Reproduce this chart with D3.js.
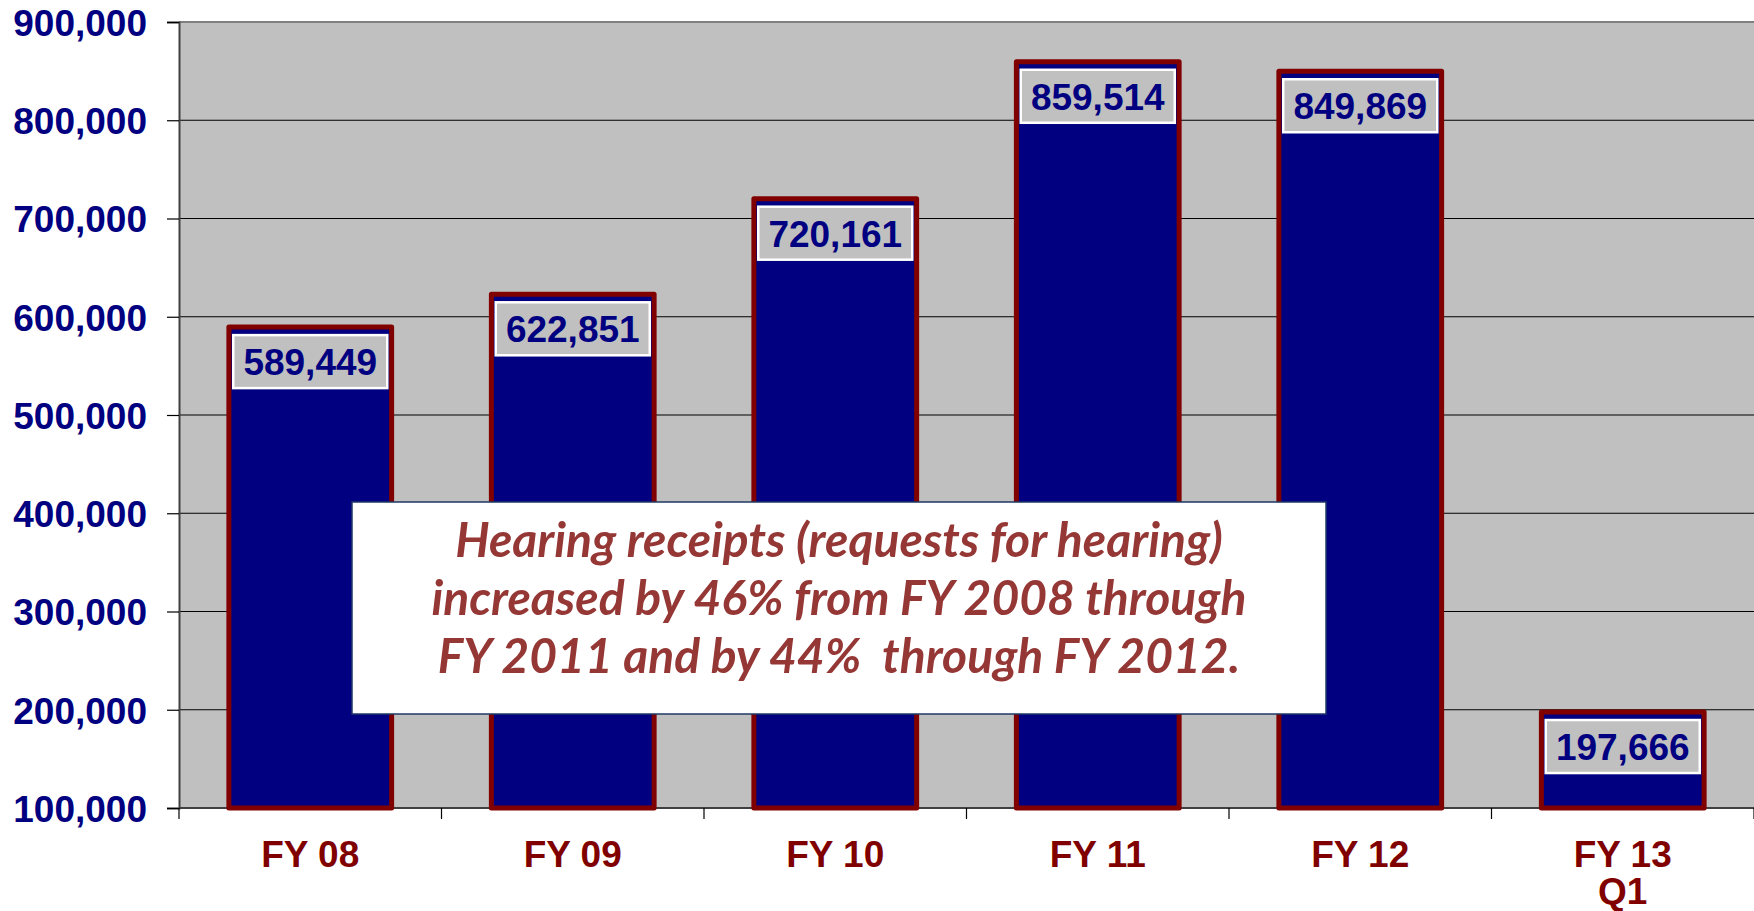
<!DOCTYPE html>
<html lang="en">
<head>
<meta charset="utf-8">
<title>Hearing receipts</title>
<script src="https://cdn.jsdelivr.net/npm/d3@7"></script>
<style>
  body { margin: 0; background: #fff; }
  svg { display: block; }
  .ylab { font-family: "Liberation Sans", Arial, sans-serif; font-weight: bold; font-size: 37px; fill: #000080; }
  .xlab { font-family: "Liberation Sans", Arial, sans-serif; font-weight: bold; font-size: 37px; fill: #800000; }
  .vlab { font-family: "Liberation Sans", Arial, sans-serif; font-weight: bold; font-size: 37px; fill: #000080; }
  .note { font-family: Lato, "Open Sans", sans-serif; font-weight: bold; font-style: italic; fill: #953735; white-space: pre; }
</style>
</head>
<body>
<script>
// data
const categories = ["FY 08", "FY 09", "FY 10", "FY 11", "FY 12", "FY 13\nQ1"];
const receipts = [589449, 622851, 720161, 859514, 849869, 197666];
const yTicks = [100000, 200000, 300000, 400000, 500000, 600000, 700000, 800000, 900000];
const noteLines = [
  "Hearing receipts (requests for hearing)",
  "increased by 46% from FY 2008 through",
  "FY 2011 and by 44%  through FY 2012."
];

const W = 1754, H = 911;
const margin = { top: 22, right: 0, bottom: 103, left: 179 };
const plotW = W - margin.left - margin.right;
const plotH = H - margin.top - margin.bottom;

const data = categories.map((c, i) => ({ cat: c, value: receipts[i] }));

const svg = d3.select("body").append("svg")
  .attr("width", W)
  .attr("height", H);

const g = svg.append("g")
  .attr("transform", "translate(" + margin.left + "," + margin.top + ")");

const x = d3.scaleBand()
  .domain(categories)
  .range([0, plotW])
  .paddingInner(0.38)
  .paddingOuter(0.19);

const y = d3.scaleLinear()
  .domain([100000, 900000])
  .range([plotH, 0]);

// plot area
g.append("rect")
  .attr("width", plotW)
  .attr("height", plotH)
  .attr("fill", "#c0c0c0");

// gridlines
g.append("g")
  .selectAll("line")
  .data(yTicks.slice(1, -1))
  .enter().append("line")
  .attr("x1", 0).attr("x2", plotW)
  .attr("y1", d => y(d)).attr("y2", d => y(d))
  .attr("stroke", "#000")
  .attr("stroke-width", 1.2);

// top border
g.append("line")
  .attr("x1", 0).attr("x2", plotW)
  .attr("y1", y(900000)).attr("y2", y(900000))
  .attr("stroke", "#808080")
  .attr("stroke-width", 2);

// y axis
const yAxis = d3.axisLeft(y)
  .tickValues(yTicks)
  .tickSize(12)
  .tickPadding(20)
  .tickFormat(d3.format(","));

const ya = g.append("g").call(yAxis);
ya.select(".domain").attr("stroke", "#404040").attr("stroke-width", 2);
ya.selectAll(".tick line").attr("stroke", "#000").attr("stroke-width", 1.2);
ya.selectAll(".tick text").attr("class", "ylab").attr("font-size", null).attr("font-family", null)
  .attr("dy", "0.36em");

// x axis line and boundary ticks
const step = x.step();
const bounds = [0].concat(categories.map(c => x(c) + x.bandwidth() + step * x.paddingInner() / 2));
g.append("line")
  .attr("x1", 0).attr("x2", plotW)
  .attr("y1", plotH).attr("y2", plotH)
  .attr("stroke", "#404040")
  .attr("stroke-width", 2);
g.append("g").selectAll("line")
  .data(bounds)
  .enter().append("line")
  .attr("x1", d => d).attr("x2", d => d)
  .attr("y1", plotH).attr("y2", plotH + 11)
  .attr("stroke", "#000")
  .attr("stroke-width", 1.2);

// bars
g.append("g").selectAll("rect")
  .data(data)
  .enter().append("rect")
  .attr("x", d => x(d.cat))
  .attr("y", d => y(d.value))
  .attr("width", x.bandwidth())
  .attr("height", d => plotH - y(d.value))
  .attr("fill", "#000080")
  .attr("stroke", "#800000")
  .attr("stroke-width", 5)
  .attr("stroke-linejoin", "round");

// value labels
const lab = g.append("g").selectAll("g")
  .data(data)
  .enter().append("g")
  .attr("transform", d => "translate(" + (x(d.cat) + x.bandwidth() / 2) + "," + (y(d.value) + 8) + ")");
lab.append("rect")
  .attr("x", -77).attr("y", 0)
  .attr("width", 154).attr("height", 53)
  .attr("fill", "#c0c0c0")
  .attr("stroke", "#fff")
  .attr("stroke-width", 2.5);
lab.append("text")
  .attr("class", "vlab")
  .attr("text-anchor", "middle")
  .attr("y", 40)
  .text(d => d3.format(",")(d.value));

// category labels
const xl = g.append("g").selectAll("text")
  .data(categories)
  .enter().append("text")
  .attr("class", "xlab")
  .attr("text-anchor", "middle")
  .attr("x", d => x(d) + x.bandwidth() / 2)
  .attr("y", plotH + 59);
xl.selectAll("tspan")
  .data(d => d.split("\n"))
  .enter().append("tspan")
  .attr("x", function () { return d3.select(this.parentNode).attr("x"); })
  .attr("dy", (d, i) => i === 0 ? 0 : 37)
  .text(d => d);

// annotation box
const box = { x: 352, y: 502, w: 974, h: 212 };
svg.append("rect")
  .attr("x", box.x).attr("y", box.y)
  .attr("width", box.w).attr("height", box.h)
  .attr("fill", "#fff")
  .attr("stroke", "#1f3864")
  .attr("stroke-width", 1.5);

const note = svg.append("g").selectAll("text")
  .data(noteLines)
  .enter().append("text")
  .attr("class", "note")
  .attr("text-anchor", "middle")
  .attr("x", box.x + box.w / 2)
  .attr("y", (d, i) => 557 + i * 58)
  .attr("font-size", 40)
  .text(d => d);

// fit note font size to the width of the first line (~768px)
const w0 = note.node().getComputedTextLength();
note.attr("font-size", 40 * 768 / w0);
</script>
</body>
</html>
